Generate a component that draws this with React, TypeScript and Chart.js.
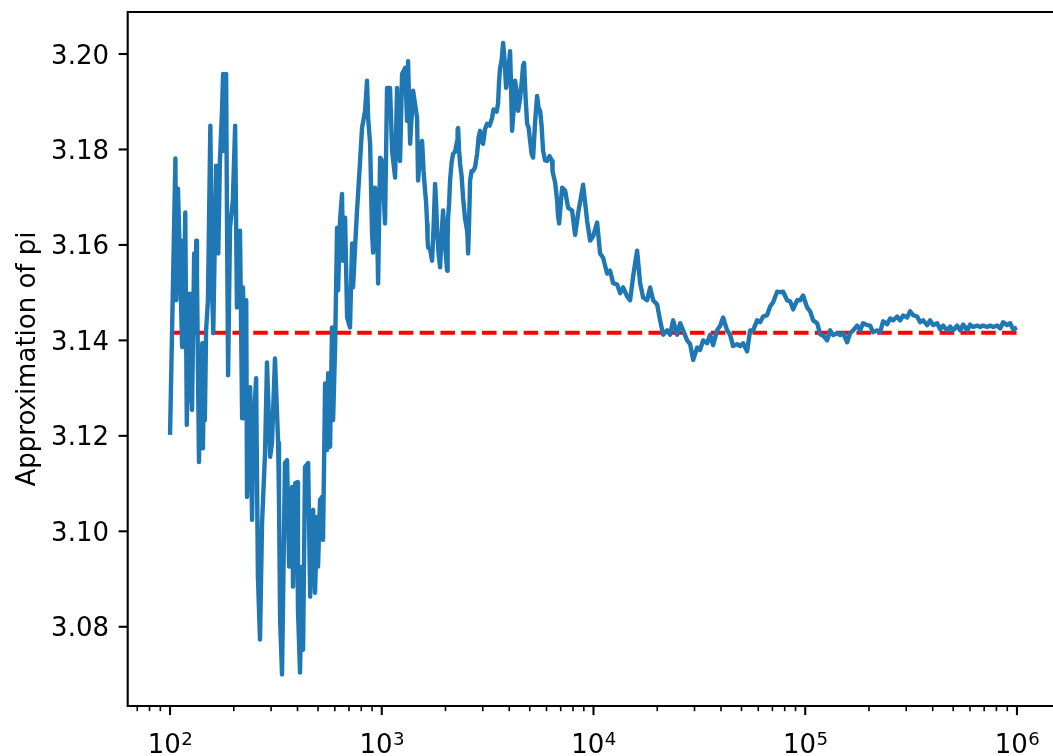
import React, { useEffect, useRef } from 'react';
import { Chart, registerables } from 'chart.js';

Chart.register(...registerables);

// ---- Data (sample count n, running estimate of pi) ----
const nEarly = [
  100, 106, 107, 109, 112, 114, 115, 116, 118, 120,
  122, 123, 124, 127, 130, 131, 133, 134, 137, 139,
  140, 142, 143, 145, 146, 148, 151, 155, 158, 160,
  165, 169, 172, 176, 178, 180, 184, 186, 188, 192,
  198, 203, 207, 214, 219, 221, 226, 229, 231, 239,
  244, 247, 255, 260, 266, 272, 281, 287, 297, 303,
  313, 324, 327, 331, 338, 349, 357, 365, 377, 381,
  390, 398, 402, 411, 420, 425, 434, 449, 459, 469,
  474, 484, 495, 500, 511, 522, 528, 540, 552, 558,
  570,
];
const piEarly = [
  3.1202, 3.1781, 3.1484, 3.1718, 3.1526, 3.1386, 3.1609, 3.1421, 3.1668, 3.1223,
  3.1421, 3.1275, 3.1498, 3.1254, 3.1582, 3.1421, 3.1609, 3.1536, 3.1145, 3.1317,
  3.1212, 3.1394, 3.1174, 3.1379, 3.1233, 3.1421, 3.1484, 3.1850, 3.1505, 3.1415,
  3.1766, 3.1582, 3.1776, 3.1881, 3.1958, 3.1797, 3.1958, 3.1620, 3.1327, 3.1636,
  3.1693, 3.1850, 3.1469, 3.1630, 3.1237, 3.1511, 3.1344, 3.1484, 3.1072, 3.1302,
  3.1024, 3.1206, 3.1321, 3.0905, 3.0773, 3.1018, 3.1164, 3.1354, 3.1156, 3.1185,
  3.1362, 3.1185, 3.1066, 3.0815, 3.0700, 3.1143, 3.1149, 3.0926, 3.1093, 3.0884,
  3.1101, 3.1103, 3.0836, 3.0704, 3.0926, 3.0752, 3.1135, 3.1143, 3.0863, 3.1039,
  3.1045, 3.0871, 3.1030, 3.0926, 3.1066, 3.1072, 3.0982, 3.1310, 3.1170, 3.1331,
  3.1177,
];

const nRise = [
  582, 589, 602, 615, 622, 635, 649, 656, 671, 686,
  708, 724, 732, 748, 764, 773, 790, 807, 834, 852,
  862, 881, 900, 910, 930, 950, 961, 982, 1003, 1036,
  1059, 1094, 1119, 1156, 1181, 1194, 1220, 1247, 1289, 1317,
  1331, 1361, 1406, 1468,
];
const piRise = [
  3.1427, 3.1233, 3.1386, 3.1636, 3.1505, 3.1651, 3.1707, 3.1567, 3.1657, 3.1448,
  3.1427, 3.1603, 3.1511, 3.1595, 3.1672, 3.1707, 3.1776, 3.1845, 3.1881, 3.1944,
  3.1866, 3.1812, 3.1624, 3.1584, 3.1720, 3.1651, 3.1519, 3.1783, 3.1776, 3.1645,
  3.1929, 3.1929, 3.1797, 3.1741, 3.1929, 3.1818, 3.1776, 3.1958, 3.1971, 3.1860,
  3.1985, 3.1812, 3.1923, 3.1866,
];

const nPeak = [
  1484, 1517, 1550, 1575, 1601, 1619, 1637, 1646, 1655, 1691,
  1728, 1757, 1786, 1805, 1825, 1855, 1886, 1917, 1948, 1991,
  2035, 2046, 2057, 2079, 2102, 2137, 2172, 2219, 2268, 2281,
  2294, 2319, 2344, 2382, 2421, 2474, 2529, 2543, 2557, 2585,
  2613, 2656, 2699, 2759, 2820, 2866, 2913, 2961, 3009, 3075,
  3143, 3230, 3319, 3373, 3429, 3485, 3542, 3582, 3622, 3681,
  3741, 3803, 3865, 3950, 4036, 4080, 4125, 4193, 4263, 4333,
  4404, 4500, 4600, 4650, 4701, 4779, 4858, 4937, 5018, 5101,
  5185, 5299, 5415, 5504, 5595, 5687, 5780, 5907, 6037, 6206,
  6375, 6410, 6445, 6588, 6732, 6806, 6880,
];
const piPeak = [
  3.1735, 3.1787, 3.1818, 3.1756, 3.1714, 3.1690, 3.1645, 3.1610, 3.1595, 3.1591,
  3.1567, 3.1638, 3.1728, 3.1689, 3.1630, 3.1582, 3.1553, 3.1623, 3.1672, 3.1599,
  3.1546, 3.1612, 3.1657, 3.1686, 3.1735, 3.1773, 3.1791, 3.1795, 3.1818, 3.1842,
  3.1845, 3.1798, 3.1770, 3.1745, 3.1699, 3.1655, 3.1630, 3.1616, 3.1582, 3.1649,
  3.1735, 3.1755, 3.1755, 3.1763, 3.1791, 3.1825, 3.1839, 3.1816, 3.1812, 3.1843,
  3.1854, 3.1850, 3.1866, 3.1884, 3.1881, 3.1879, 3.1896, 3.1944, 3.1971, 3.1987,
  3.2023, 3.1986, 3.1929, 3.1958, 3.2006, 3.1933, 3.1839, 3.1882, 3.1944, 3.1923,
  3.1881, 3.1906, 3.1950, 3.1976, 3.1981, 3.1908, 3.1854, 3.1846, 3.1818, 3.1791,
  3.1783, 3.1858, 3.1912, 3.1887, 3.1881, 3.1849, 3.1797, 3.1777, 3.1776, 3.1786,
  3.1776, 3.1753, 3.1749, 3.1731, 3.1693, 3.1659, 3.1645,
];

const nDecay = [
  7108, 7344, 7586, 7925, 8188, 8459, 8930, 9328, 9637, 9956,
  10399, 10745, 11100, 11595, 11978, 12376, 12928, 13357, 13800, 14414,
  14893, 15388, 16070, 16604, 17155, 17918, 18514, 19125, 19977, 20637,
  21323, 22271, 23004, 23768, 24827, 25651, 26503, 27679, 28600, 29547,
  30862, 31875, 32935, 34398, 35540, 36720, 38350, 39623, 40939, 42758,
  44175, 45642, 47670, 49252, 50883, 53145, 54910, 56733, 59254,
];
const piDecay = [
  3.1720, 3.1714, 3.1678, 3.1672, 3.1621, 3.1666, 3.1726, 3.1651, 3.1609, 3.1618,
  3.1647, 3.1582, 3.1573, 3.1540, 3.1546, 3.1520, 3.1517, 3.1499, 3.1511, 3.1492,
  3.1484, 3.1534, 3.1588, 3.1520, 3.1490, 3.1484, 3.1511, 3.1484, 3.1475, 3.1442,
  3.1412, 3.1421, 3.1412, 3.1442, 3.1412, 3.1436, 3.1421, 3.1400, 3.1392, 3.1359,
  3.1385, 3.1380, 3.1400, 3.1394, 3.1412, 3.1390, 3.1421, 3.1430, 3.1448, 3.1421,
  3.1412, 3.1388, 3.1392, 3.1388, 3.1394, 3.1377, 3.1421, 3.1421, 3.1442,
];

const nSettle = [
  61215, 63249, 66069, 68263, 70531, 73659, 76103, 78633, 82133, 84863,
  87664, 91567, 94605, 97744, 102094, 105480, 108983, 113835, 117616, 121523,
  126910, 131114, 135467, 141494, 146193, 151009, 157753, 162977, 168395, 175867,
  181669, 187713, 196061, 202585, 209227, 218541, 225804, 233300, 243700, 251780,
  260140, 271710, 280740, 290070, 302940, 313000, 323390, 337780, 348960, 360560,
  376570, 389050, 401940, 419810, 433710, 448120, 468080, 483560, 499620, 521820,
  539160, 557050, 581850, 601090, 621070, 648690, 670170, 692410, 723080, 747050,
  771830, 806160, 832890, 860630, 898900, 928780, 959670, 1000000,
];
const piSettle = [
  3.1438, 3.1450, 3.1453, 3.1471, 3.1480, 3.1502, 3.1501, 3.1502, 3.1484, 3.1482,
  3.1465, 3.1484, 3.1484, 3.1494, 3.1469, 3.1461, 3.1442, 3.1436, 3.1413, 3.1410,
  3.1400, 3.1421, 3.1411, 3.1415, 3.1411, 3.1415, 3.1396, 3.1415, 3.1421, 3.1431,
  3.1421, 3.1436, 3.1432, 3.1431, 3.1417, 3.1421, 3.1417, 3.1440, 3.1434, 3.1446,
  3.1442, 3.1450, 3.1442, 3.1452, 3.1448, 3.1461, 3.1453, 3.1450, 3.1438, 3.1442,
  3.1432, 3.1442, 3.1432, 3.1436, 3.1423, 3.1431, 3.1421, 3.1429, 3.1421, 3.1431,
  3.1421, 3.1433, 3.1421, 3.1433, 3.1428, 3.1431, 3.1428, 3.1431, 3.1428, 3.1431,
  3.1428, 3.1431, 3.1425, 3.1438, 3.1432, 3.1436, 3.1423, 3.1427,
];

const referenceN = [100, 1000000];
const referencePi = [3.14159, 3.14159];

const yTickValues = [3.08, 3.10, 3.12, 3.14, 3.16, 3.18, 3.20];
const yTickLabels = ['3.08', '3.10', '3.12', '3.14', '3.16', '3.18', '3.20'];
const xMajorValues = [100, 1000, 10000, 100000, 1000000];
const xMajorBase = ['10', '10', '10', '10', '10'];
const xMajorExponents = ['2', '3', '4', '5', '6'];
const minorMultipliers = [2, 3, 4, 5, 6, 7, 8, 9];
const yAxisTitle = 'Approximation of pi';

const sampleCounts = [...nEarly, ...nRise, ...nPeak, ...nDecay, ...nSettle];
const piEstimates = [...piEarly, ...piRise, ...piPeak, ...piDecay, ...piSettle];

const X_MIN = Math.pow(10, 1.8);
const X_MAX = Math.pow(10, 6.2);
const Y_MIN = 3.0634;
const Y_MAX = 3.2088;

const CANVAS_W = 1066;
const CANVAS_H = 756;
const FONT = '"DejaVu Sans", sans-serif';

export default function App() {
  const canvasRef = useRef<HTMLCanvasElement | null>(null);

  useEffect(() => {
    const canvas = canvasRef.current;
    if (!canvas) return;

    const minorTicks: number[] = [];
    for (let e = 1; e <= 6; e++) {
      for (const m of minorMultipliers) {
        const v = m * Math.pow(10, e);
        if (v > X_MIN && v < X_MAX) minorTicks.push(v);
      }
    }

    const axesPlugin = {
      id: 'mplAxes',
      afterDraw(chart: any) {
        const ctx = chart.ctx as CanvasRenderingContext2D;
        const area = chart.chartArea;
        const xs = chart.scales.x;
        const ys = chart.scales.y;
        ctx.save();
        ctx.strokeStyle = '#000';
        ctx.fillStyle = '#000';
        // spines
        ctx.lineWidth = 2.1;
        ctx.lineCap = 'square';
        ctx.beginPath();
        ctx.rect(area.left, area.top, area.right - area.left, area.bottom - area.top);
        ctx.stroke();
        ctx.lineCap = 'butt';
        // x major ticks
        ctx.lineWidth = 2.1;
        for (const v of xMajorValues) {
          const px = xs.getPixelForValue(v);
          ctx.beginPath();
          ctx.moveTo(px, area.bottom);
          ctx.lineTo(px, area.bottom + 9.1);
          ctx.stroke();
        }
        // x minor ticks
        ctx.lineWidth = 1.6;
        for (const v of minorTicks) {
          const px = xs.getPixelForValue(v);
          ctx.beginPath();
          ctx.moveTo(px, area.bottom);
          ctx.lineTo(px, area.bottom + 5.2);
          ctx.stroke();
        }
        // y ticks
        ctx.lineWidth = 2.1;
        for (const v of yTickValues) {
          const py = ys.getPixelForValue(v);
          ctx.beginPath();
          ctx.moveTo(area.left, py);
          ctx.lineTo(area.left - 9.1, py);
          ctx.stroke();
        }
        // y tick labels
        ctx.font = `26px ${FONT}`;
        ctx.textAlign = 'right';
        ctx.textBaseline = 'alphabetic';
        yTickValues.forEach((v, i) => {
          const py = ys.getPixelForValue(v);
          ctx.fillText(yTickLabels[i], area.left - 18.7, py + 9.5);
        });
        // x tick labels (10 with superscript exponent)
        const baseY = area.bottom + 47;
        xMajorValues.forEach((v, i) => {
          const px = xs.getPixelForValue(v);
          ctx.font = `26px ${FONT}`;
          const wBase = ctx.measureText(xMajorBase[i]).width;
          ctx.font = `18.2px ${FONT}`;
          const wExp = ctx.measureText(xMajorExponents[i]).width;
          const start = px - (wBase + wExp) / 2;
          ctx.textAlign = 'left';
          ctx.font = `26px ${FONT}`;
          ctx.fillText(xMajorBase[i], start, baseY);
          ctx.font = `18.2px ${FONT}`;
          ctx.fillText(xMajorExponents[i], start + wBase + 0.5, baseY - 8);
        });
        // y axis title
        ctx.save();
        ctx.font = `26px ${FONT}`;
        ctx.translate(34.5, (area.top + area.bottom) / 2);
        ctx.rotate(-Math.PI / 2);
        ctx.textAlign = 'center';
        ctx.textBaseline = 'alphabetic';
        ctx.fillText(yAxisTitle, 0, 0);
        ctx.restore();
        ctx.restore();
      },
    };

    const chart = new Chart(canvas, {
      type: 'line',
      data: {
        datasets: [
          {
            label: 'estimate',
            data: sampleCounts.map((n, i) => ({ x: n, y: piEstimates[i] })),
            borderColor: '#1f77b4',
            borderWidth: 4.4,
            borderJoinStyle: 'round',
            borderCapStyle: 'butt',
            pointRadius: 0,
            fill: false,
            tension: 0,
            order: 0,
          },
          {
            label: 'pi',
            data: referenceN.map((n, i) => ({ x: n, y: referencePi[i] })),
            borderColor: '#ff0000',
            borderWidth: 3.9,
            borderDash: [14.5, 6.3],
            borderCapStyle: 'butt',
            pointRadius: 0,
            fill: false,
            order: 1,
          },
        ],
      },
      options: {
        animation: false,
        responsive: false,
        devicePixelRatio: 1,
        layout: { padding: { left: 0, right: CANVAS_W - 1059.3, top: 12, bottom: 0 } },
        plugins: { legend: { display: false }, tooltip: { enabled: false } },
        scales: {
          x: {
            type: 'logarithmic',
            min: X_MIN,
            max: X_MAX,
            grid: { display: false },
            border: { display: false },
            ticks: { display: false },
            afterFit(scale: any) {
              scale.height = CANVAS_H - 706;
            },
          },
          y: {
            type: 'linear',
            min: Y_MIN,
            max: Y_MAX,
            grid: { display: false },
            border: { display: false },
            ticks: { display: false },
            afterFit(scale: any) {
              scale.width = 127.7;
            },
          },
        },
      },
      plugins: [axesPlugin],
    } as any);

    return () => {
      chart.destroy();
    };
  }, []);

  return (
    <div
      style={{
        position: 'fixed',
        left: 0,
        top: 0,
        width: 1053,
        height: 756,
        overflow: 'hidden',
        background: '#fff',
      }}
    >
      <canvas
        ref={canvasRef}
        width={CANVAS_W}
        height={CANVAS_H}
        style={{ width: CANVAS_W, height: CANVAS_H, display: 'block' }}
      />
    </div>
  );
}
